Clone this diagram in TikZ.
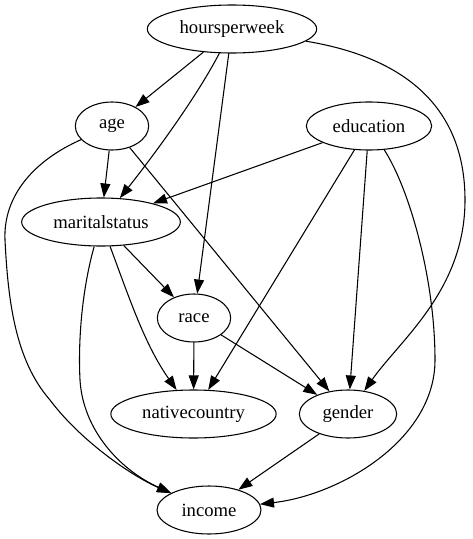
\documentclass[tikz,border=0pt]{standalone}
\usepackage{fontspec}
\setmainfont{Liberation Serif}
\usetikzlibrary{shapes.geometric,arrows.meta}
\begin{document}
\begin{tikzpicture}[x=0.75pt,y=-0.75pt,
  var/.style={draw,ellipse,line width=0.8pt,inner sep=0pt,
    minimum height=36pt,font=\fontsize{14}{16}\selectfont},
  edge/.style={line width=0.8pt,-{Triangle[length=10.5pt,width=7.5pt]}}]
\useasboundingbox (0,0) rectangle (472,539);
% variables
\node[var,minimum width=127pt] (hpw) at (232,29) {hoursperweek};
\node[var,minimum width=55pt]  (age) at (112,126) {age};
\node[var,minimum width=94pt]  (edu) at (369,126) {education};
\node[var,minimum width=119pt] (ms)  at (101,222) {maritalstatus};
\node[var,minimum width=55pt]  (race) at (194,318) {race};
\node[var,minimum width=124pt] (nc)  at (193.5,414) {nativecountry};
\node[var,minimum width=73pt]  (gen) at (348,414) {gender};
\node[var,minimum width=78pt]  (inc) at (209,510) {income};
% dependencies
\draw[edge] (hpw) -- (age);
\draw[edge] (hpw) .. controls (195,100) and (150,160) .. (ms);
\draw[edge] (hpw) -- (race);
\draw[edge] (hpw) .. controls (420,60) and (465,120) .. (465,200)
  .. controls (465,290) and (400,340) .. (gen);
\draw[edge] (age) -- (ms);
\draw[edge] (age) -- (gen);
\draw[edge] (age) .. controls (35,160) and (3,195) .. (5,240)
  .. controls (8,300) and (15,360) .. (50,400)
  .. controls (80,440) and (130,475) .. (inc);
\draw[edge] (edu) -- (ms);
\draw[edge] (edu) -- (nc);
\draw[edge] (edu) -- (gen);
\draw[edge] (edu) .. controls (410,190) and (435,280) .. (435,360)
  .. controls (435,440) and (340,495) .. (inc);
\draw[edge] (ms) -- (race);
\draw[edge] (ms) .. controls (130,300) and (145,345) .. (nc);
\draw[edge] (ms) .. controls (82,290) and (78,340) .. (80,380)
  .. controls (83,430) and (120,470) .. (inc);
\draw[edge] (race) -- (nc);
\draw[edge] (race) -- (gen);
\draw[edge] (gen) -- (inc);
\end{tikzpicture}
\end{document}
